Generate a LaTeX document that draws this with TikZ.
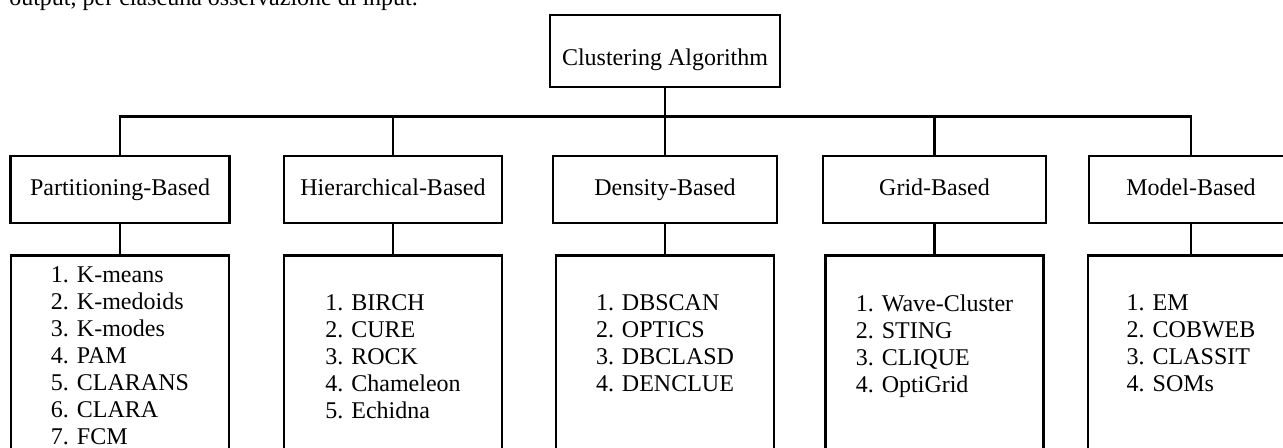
\documentclass[tikz,border=0pt]{standalone}
\usepackage{fontspec}
\setmainfont{Liberation Serif}
\usetikzlibrary{positioning}

\begin{document}
\begin{tikzpicture}[x=0.5pt,y=-0.5pt,line width=1.3pt,node distance=15pt,
  every node/.style={font=\fontsize{12pt}{13.5pt}\selectfont},
  cat node/.style={rectangle,draw,minimum height=33.5pt,inner sep=0pt,
    text height=8.5pt,text depth=2.5pt},
  leaf node/.style={rectangle,draw,minimum width=109pt,minimum height=112pt,inner sep=0pt},
  list text/.style={align=left,inner sep=0pt}]

  \useasboundingbox (0,0) rectangle (1283,448);
  \clip (0,0) rectangle (1283,448);

  \node[anchor=base west,inner sep=0pt] (intro) at (8,6) {output, per ciascuna osservazione di input.};

  \node[cat node,minimum width=115pt,minimum height=36pt,text height=16.7pt] (root) at (665,51) {Clustering Algorithm};

  \node[cat node,minimum width=109.5pt] (catP) at (120,189.5) {Partitioning-Based};
  \node[cat node,minimum width=109pt] (catH) at (393,189.5) {Hierarchical-Based};
  \node[cat node,minimum width=112pt] (catD) at (665,189.5) {Density-Based};
  \node[cat node,minimum width=111.5pt] (catG) at (934.5,189.5) {Grid-Based};
  \node[cat node,minimum width=102pt] (catM) at (1191,189.5) {Model-Based};

  \node[leaf node] (leafP) [below=of catP] {};
  \node[leaf node] (leafH) [below=of catH] {};
  \node[leaf node] (leafD) [below=of catD] {};
  \node[leaf node] (leafG) [below=of catG] {};
  \node[leaf node,minimum width=103pt] (leafM) [below=of catM] {};

  \node[list text] (listP) [below=5.5pt of leafP.north]
    {1. K-means\\2. K-medoids\\3. K-modes\\4. PAM\\5. CLARANS\\6. CLARA\\7. FCM};
  \node[list text] (listH) [below=19.5pt of leafH.north]
    {1. BIRCH\\2. CURE\\3. ROCK\\4. Chameleon\\5. Echidna};
  \node[list text] (listD) [below=19.5pt of leafD.north]
    {1. DBSCAN\\2. OPTICS\\3. DBCLASD\\4. DENCLUE};
  \node[list text] (listG) [below=19.5pt of leafG.north]
    {1. Wave-Cluster\\2. STING\\3. CLIQUE\\4. OptiGrid};
  \node[list text] (listM) [below=19.5pt of leafM.north]
    {1. EM\\2. COBWEB\\3. CLASSIT\\4. SOMs};

  \draw (root.south) -- ++(0,-14pt) coordinate (bus);
  \foreach \c in {catP,catH,catD,catG,catM}
    \draw (bus) -| (\c.north);
  \foreach \c/\l in {catP/leafP,catH/leafH,catD/leafD,catG/leafG,catM/leafM}
    \draw (\c) -- (\l);
\end{tikzpicture}
\end{document}
